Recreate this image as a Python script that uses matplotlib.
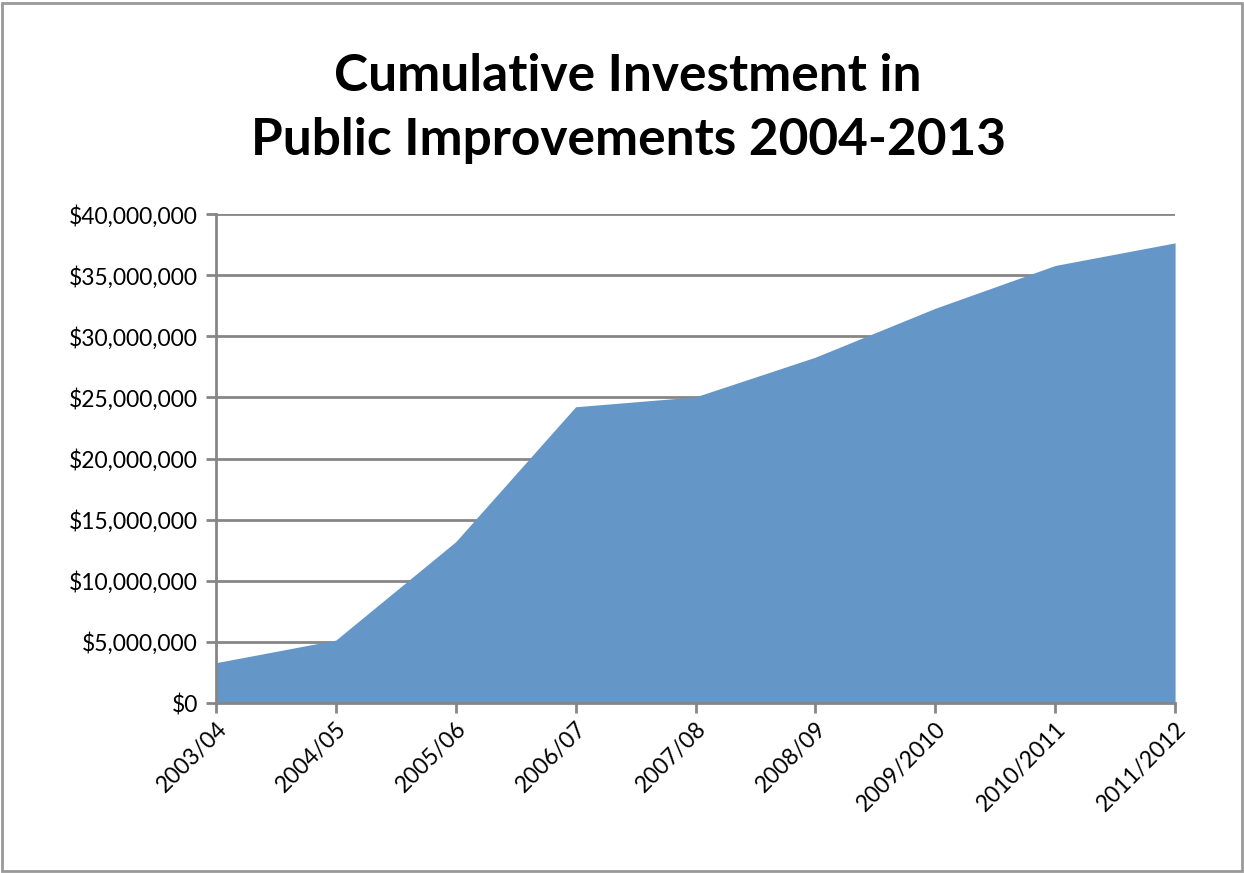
import matplotlib.pyplot as plt
from matplotlib.ticker import FuncFormatter, MultipleLocator
from matplotlib.patches import Rectangle

years = ["2003/04", "2004/05", "2005/06", "2006/07", "2007/08",
         "2008/09", "2009/2010", "2010/2011", "2011/2012"]
investment = [3.3e6, 5.15e6, 13.2e6, 24.24e6, 25.05e6,
              28.3e6, 32.3e6, 35.8e6, 37.65e6]

plt.rcParams['font.family'] = ['Lato', 'DejaVu Sans']
grey = "#868686"

fig = plt.figure(figsize=(12.44, 8.73), dpi=100)
ax = fig.add_axes([0.1736, 0.1947, 0.771, 0.560])

x = list(range(len(years)))
ax.fill_between(x, investment, 0, color="#6596c8", linewidth=0, zorder=2)

ax.set_xlim(0, len(years) - 1)
ax.set_ylim(0, 40e6)
ax.yaxis.set_major_locator(MultipleLocator(5e6))
ax.yaxis.set_major_formatter(FuncFormatter(lambda v, p: f"${v:,.0f}"))
ax.grid(axis="y", color=grey, linewidth=2, zorder=1)
ax.set_axisbelow(True)

ax.set_xticks(x)
ax.set_xticklabels(years, rotation=45, ha="right", rotation_mode="anchor")

for side in ["top", "right"]:
    ax.spines[side].set_visible(False)
for side in ["left", "bottom"]:
    ax.spines[side].set_color(grey)
    ax.spines[side].set_linewidth(2)
    ax.spines[side].set_zorder(3)
ax.tick_params(axis="both", colors=grey, width=2, length=7, labelsize=16.5,
               labelcolor="black")
ax.tick_params(axis="y", pad=6)
ax.tick_params(axis="x", pad=4)

fig.text(0.505, 0.876, "Cumulative Investment in\nPublic Improvements 2004-2013",
         ha="center", va="center", fontsize=37, fontweight="bold",
         linespacing=1.45)

fig.patches.append(Rectangle((0.002, 0.002), 0.996, 0.995, transform=fig.transFigure,
                             fill=False, edgecolor="#999999", linewidth=2))

fig.savefig("out.png", dpi=100)
